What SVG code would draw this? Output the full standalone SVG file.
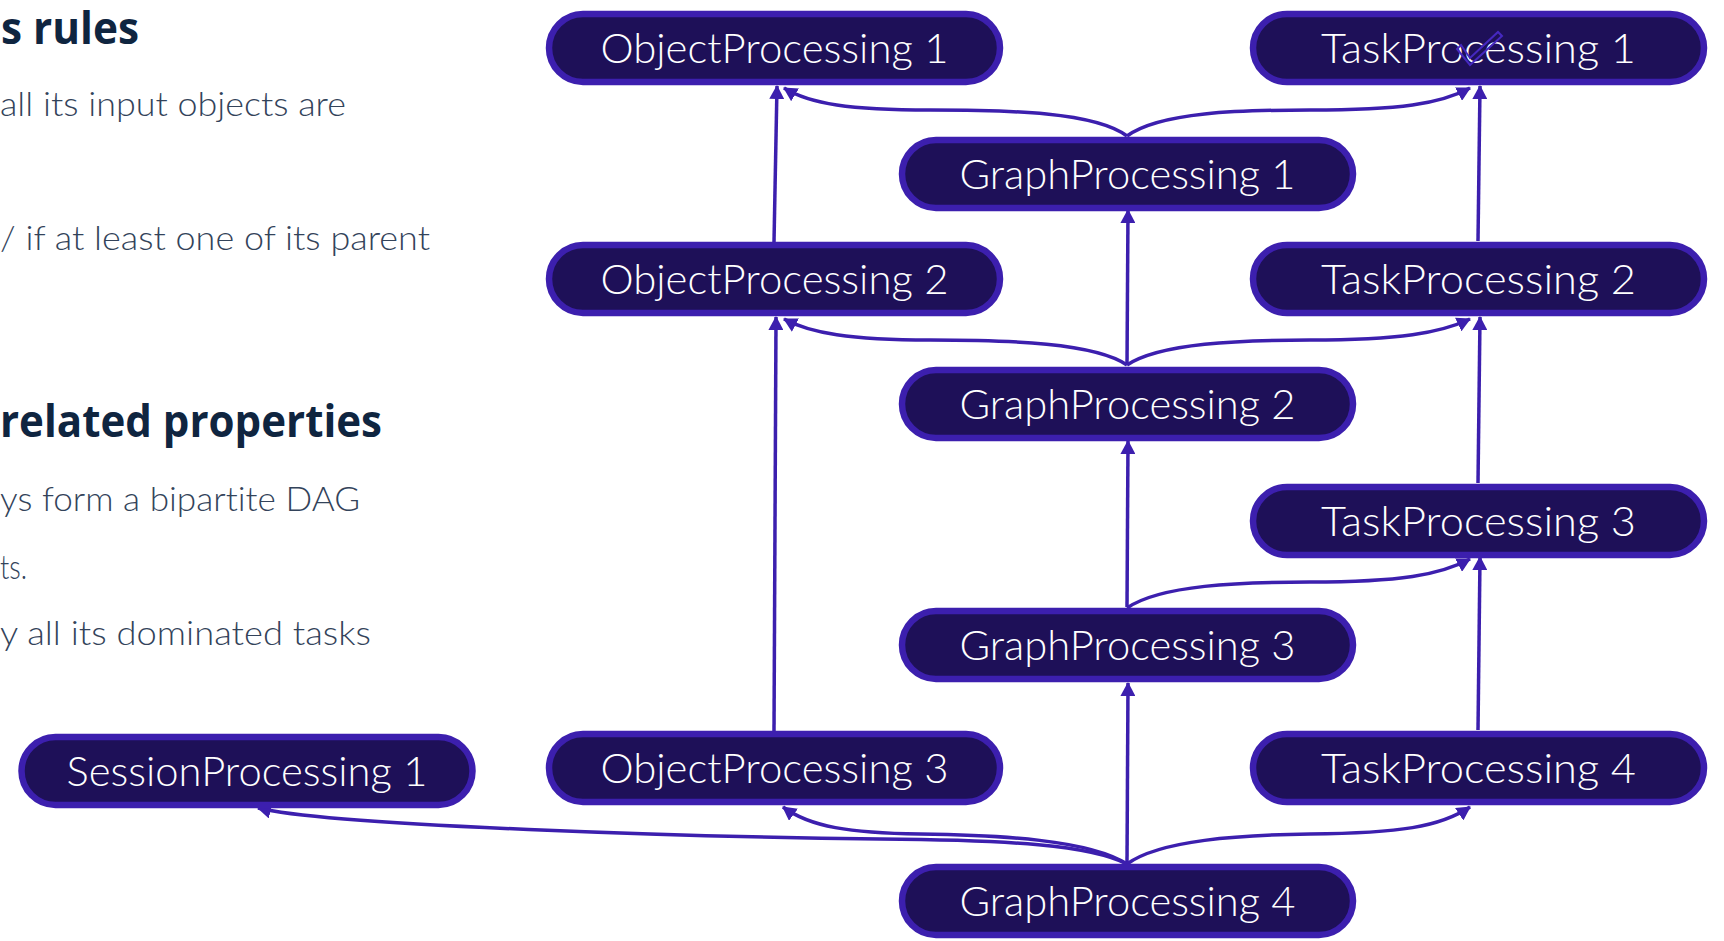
<svg xmlns="http://www.w3.org/2000/svg" width="1724" height="941" viewBox="0 0 1724 941">
  <style>
    .pill rect { fill: #1e1058; stroke: #3c1fae; stroke-width: 6.5; }
    .pill text { fill: #ffffff; font-family: Lato, Roboto, "Liberation Sans", sans-serif; font-weight: 300; font-size: 41px; text-anchor: middle; font-variant-ligatures: none; }
    .edge { fill: none; stroke: #3c1fae; stroke-width: 3.5; marker-end: url(#arrow); }
    .head { fill: #0f2540; font-family: "Open Sans", Lato, "Liberation Sans", sans-serif; font-weight: 700; font-size: 45px; }
    .body { fill: #33435a; font-family: Lato, "Open Sans", "Liberation Sans", sans-serif; font-weight: 300; font-size: 34px; font-variant-ligatures: none; }
  </style>
  <defs>
    <marker id="arrow" markerUnits="userSpaceOnUse" markerWidth="14" markerHeight="15" refX="13" refY="7.5" orient="auto">
      <path d="M0,0 L14,7.5 L0,15 z" fill="#3c1fae"/>
    </marker>
  </defs>

  <rect width="1724" height="941" fill="#ffffff"/>

  <!-- slide text on the left -->
  <g id="slide-text">
    <text class="head" x="1" y="44" textLength="138" lengthAdjust="spacingAndGlyphs">s rules</text>
    <text class="body" x="0" y="116" textLength="346" lengthAdjust="spacingAndGlyphs">all its input objects are</text>
    <text class="body" x="0" y="250" textLength="430" lengthAdjust="spacingAndGlyphs">/ if at least one of its parent</text>
    <text class="head" x="0" y="437" textLength="382" lengthAdjust="spacingAndGlyphs">related properties</text>
    <text class="body" x="0" y="511" textLength="360" lengthAdjust="spacingAndGlyphs">ys form a bipartite DAG</text>
    <text class="body" x="0" y="579" textLength="27" lengthAdjust="spacingAndGlyphs">ts.</text>
    <text class="body" x="0" y="645" textLength="371" lengthAdjust="spacingAndGlyphs">y all its dominated tasks</text>
  </g>

  <!-- connectors (drawn under the nodes) -->
  <g id="connectors">
    <path class="edge" d="M774,242 L777,86"/>
    <path class="edge" d="M1478,241 L1480,86"/>
    <path class="edge" d="M1127,365 L1128,210"/>
    <path class="edge" d="M774,731 L776,317"/>
    <path class="edge" d="M1478,483 L1480,317"/>
    <path class="edge" d="M1127,607 L1128,441"/>
    <path class="edge" d="M1127,863 L1128,683"/>
    <path class="edge" d="M1478,730 L1480,557"/>

    <path class="edge" d="M1127,136 C1095,112 1010,110 930,110 C850,110 810,104 784,88"/>
    <path class="edge" d="M1127,136 C1160,112 1240,110 1310,110 C1400,110 1440,104 1470,88"/>
    <path class="edge" d="M1127,365 C1095,343 1010,340 930,340 C850,340 810,333 784,319"/>
    <path class="edge" d="M1127,365 C1160,343 1240,340 1310,340 C1400,340 1440,333 1470,319"/>
    <path class="edge" d="M1127,608 C1160,585 1240,582 1310,582 C1400,582 1440,575 1470,559"/>
    <path class="edge" d="M1127,864 C1090,840 1000,835 920,834 C850,833 810,827 783,807"/>
    <path class="edge" d="M1127,864 C1090,845 1010,840 880,839 C700,837 330,826 258,808"/>
    <path class="edge" d="M1127,864 C1160,840 1240,835 1310,834 C1400,833 1440,827 1470,807"/>
  </g>

  <!-- nodes -->
  <g id="ObjectProcessing1" class="pill"><rect x="549" y="14" width="451" height="68" rx="34"/><text x="774.5" y="63" textLength="348" lengthAdjust="spacingAndGlyphs">ObjectProcessing 1</text></g>
  <g id="TaskProcessing1" class="pill"><rect x="1253" y="14" width="451" height="68" rx="34"/><text x="1478.5" y="63" textLength="315" lengthAdjust="spacingAndGlyphs">TaskProcessing 1</text>
    <path d="M1457,49 L1470,65 L1502,36 L1498,32 L1470,58 L1461,45 z" fill="none" stroke="#4528c0" stroke-width="2"/></g>
  <g id="GraphProcessing1" class="pill"><rect x="902" y="140" width="451" height="68" rx="34"/><text x="1127.5" y="189" textLength="336" lengthAdjust="spacingAndGlyphs">GraphProcessing 1</text></g>
  <g id="ObjectProcessing2" class="pill"><rect x="549" y="245" width="451" height="68" rx="34"/><text x="774.5" y="294" textLength="348" lengthAdjust="spacingAndGlyphs">ObjectProcessing 2</text></g>
  <g id="TaskProcessing2" class="pill"><rect x="1253" y="245" width="451" height="68" rx="34"/><text x="1478.5" y="294" textLength="315" lengthAdjust="spacingAndGlyphs">TaskProcessing 2</text></g>
  <g id="GraphProcessing2" class="pill"><rect x="902" y="370" width="451" height="68" rx="34"/><text x="1127.5" y="419" textLength="336" lengthAdjust="spacingAndGlyphs">GraphProcessing 2</text></g>
  <g id="TaskProcessing3" class="pill"><rect x="1253" y="487" width="451" height="68" rx="34"/><text x="1478.5" y="536" textLength="315" lengthAdjust="spacingAndGlyphs">TaskProcessing 3</text></g>
  <g id="GraphProcessing3" class="pill"><rect x="902" y="611" width="451" height="68" rx="34"/><text x="1127.5" y="660" textLength="336" lengthAdjust="spacingAndGlyphs">GraphProcessing 3</text></g>
  <g id="SessionProcessing1" class="pill"><rect x="21.5" y="737" width="451" height="68" rx="34"/><text x="247" y="786" textLength="361" lengthAdjust="spacingAndGlyphs">SessionProcessing 1</text></g>
  <g id="ObjectProcessing3" class="pill"><rect x="549" y="734" width="451" height="68" rx="34"/><text x="774.5" y="783" textLength="348" lengthAdjust="spacingAndGlyphs">ObjectProcessing 3</text></g>
  <g id="TaskProcessing4" class="pill"><rect x="1253" y="734" width="451" height="68" rx="34"/><text x="1478.5" y="783" textLength="315" lengthAdjust="spacingAndGlyphs">TaskProcessing 4</text></g>
  <g id="GraphProcessing4" class="pill"><rect x="902" y="867" width="451" height="68" rx="34"/><text x="1127.5" y="916" textLength="336" lengthAdjust="spacingAndGlyphs">GraphProcessing 4</text></g>
</svg>
